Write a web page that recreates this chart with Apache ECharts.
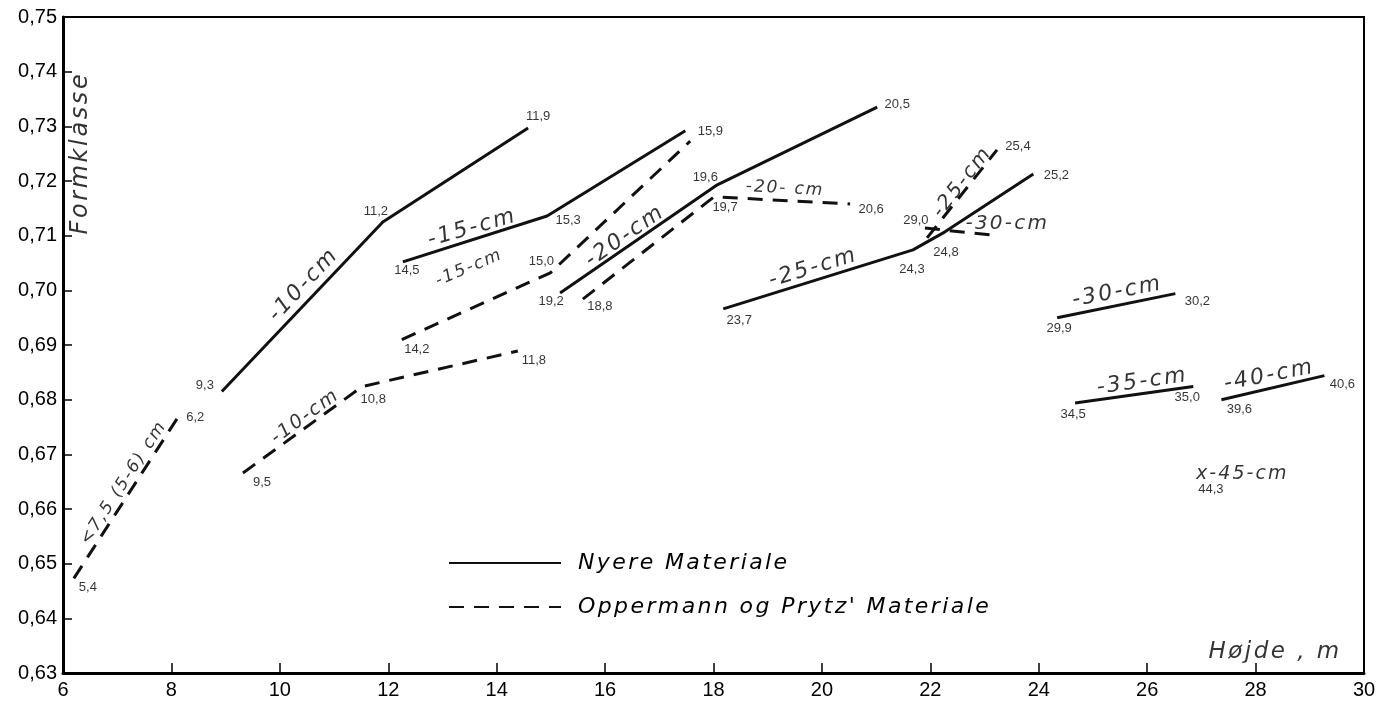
<!DOCTYPE html>
<html>
<head>
<meta charset="utf-8">
<script src="https://cdn.jsdelivr.net/npm/echarts@6/dist/echarts.min.js"></script>
<style>
  html, body { margin: 0; padding: 0; background: #fff; }
  #chart { width: 1385px; height: 705px; }
</style>
</head>
<body>
<div id="chart"></div>
<script>
// Formklasse against height (Højde, m), grouped by diameter class.

// Axis ranges and tick labels
const xTicks = [6, 8, 10, 12, 14, 16, 18, 20, 22, 24, 26, 28, 30];
const yTicks = [0.63, 0.64, 0.65, 0.66, 0.67, 0.68, 0.69, 0.70, 0.71, 0.72, 0.73, 0.74, 0.75];

// Legend names
const NYERE = 'Nyere Materiale';
const OPPERMANN = "Oppermann og Prytz' Materiale";

// Nyere Materiale (solid lines): [height m, formklasse]
const nyere10 = [[8.93, 0.6815], [11.90, 0.7125], [14.58, 0.7297]];
const nyere10Tags = ['9,3', '11,2', '11,9'];
const nyere15 = [[12.27, 0.7052], [14.93, 0.7136], [17.48, 0.7292]];
const nyere15Tags = ['14,5', '15,3', '15,9'];
const nyere20 = [[15.17, 0.6995], [18.07, 0.7193], [21.02, 0.7335]];
const nyere20Tags = ['19,2', '19,6', '20,5'];
const nyere25 = [[18.18, 0.6966], [21.68, 0.7074], [22.27, 0.7107], [23.90, 0.7213]];
const nyere25Tags = ['23,7', '24,3', '24,8', '25,2'];
const nyere30 = [[24.34, 0.6950], [26.52, 0.6994]];
const nyere30Tags = ['29,9', '30,2'];
const nyere35 = [[24.67, 0.6794], [26.85, 0.6824]];
const nyere35Tags = ['34,5', '35,0'];
const nyere40 = [[27.37, 0.6800], [29.27, 0.6844]];
const nyere40Tags = ['39,6', '40,6'];
const nyere45 = [[27.01, 0.6663]];
const nyere45Tags = ['44,3'];

// Oppermann og Prytz' Materiale (dashed lines)
const opp75 = [[6.20, 0.6473], [8.20, 0.6780]];
const opp75Tags = ['5,4', '6,2'];
const opp10 = [[9.32, 0.6666], [11.52, 0.6824], [14.39, 0.6889]];
const opp10Tags = ['9,5', '10,8', '11,8'];
const opp15 = [[12.25, 0.6910], [14.99, 0.7032], [17.57, 0.7273]];
const opp15Tags = ['14,2', '15,0', ''];
const opp20 = [[15.59, 0.6984], [18.01, 0.7171], [20.52, 0.7158]];
const opp20Tags = ['18,8', '19,7', '20,6'];
const opp25 = [[21.94, 0.7096], [23.23, 0.7257]];
const opp25Tags = ['', '25,4'];
const opp30 = [[21.90, 0.7114], [23.14, 0.7101]];
const opp30Tags = ['29,0', ''];

// Diameter-class captions, anchored in data space
const solidCaptions = [
  { text: '-10-cm', at: [10.44, 0.7010], rotate: 47 },
  { text: '-15-cm', at: [13.55, 0.7114], rotate: 16 },
  { text: '-20-cm', at: [16.37, 0.7099], rotate: 35 },
  { text: '-25-cm', at: [19.84, 0.7041], rotate: 17 },
  { text: '-30-cm', at: [25.45, 0.6997], rotate: 11 },
  { text: '-35-cm', at: [25.91, 0.6833], rotate: 8 },
  { text: '-40-cm', at: [28.25, 0.6844], rotate: 11 }
];
const dashedCaptions = [
  { text: '<7,5 (5-6) cm', at: [7.12, 0.6648], rotate: 57 },
  { text: '-10-cm', at: [10.47, 0.6769], rotate: 36 },
  { text: '-15-cm', at: [13.49, 0.7041], rotate: 23 },
  { text: '-20- cm', at: [19.32, 0.7186], rotate: -3 },
  { text: '-25-cm', at: [22.59, 0.7198], rotate: 52 },
  { text: '-30-cm', at: [23.42, 0.7122], rotate: 0 }
];
const axisTitles = [
  { text: 'Formklasse', at: [6.33, 0.7251], rotate: 90 },
  { text: 'Højde , m', at: [28.36, 0.6339], rotate: 0 }
];

// ---- styling ----
const TICK_FONT = 'Liberation Sans';
const HAND_FONT = 'DejaVu Sans';
const INK = '#111';
const DASH = [15, 10];

// Hand lettering is widely tracked: italic text gets extra letter spacing,
// everything else is drawn with normal spacing.
(function () {
  const proto = CanvasRenderingContext2D.prototype;
  const origFill = proto.fillText;
  proto.fillText = function (text, x, y, maxWidth) {
    if ('letterSpacing' in this) {
      const font = this.font || '';
      const m = /italic.*?(\d+(?:\.\d+)?)px/.exec(font);
      this.letterSpacing = m ? (parseFloat(m[1]) * 0.11).toFixed(1) + 'px' : '0px';
      this.font = font;
    }
    if (maxWidth === undefined) return origFill.call(this, text, x, y);
    return origFill.call(this, text, x, y, maxWidth);
  };
})();

// pixel offsets of each point tag relative to its point
const tagOffsets = {
  n10: [[-17, -6], [-7, -11], [10, -12]],
  n15: [[4, 9], [21, 4], [25, 1]],
  n20: [[-9, 8], [-12, -7], [20, -3]],
  n25: [[16, 12], [-1, 20], [1, 21], [23, 2]],
  n30: [[2, 11], [22, 8]],
  n35: [[-2, 11], [-6, 11]],
  n40: [[18, 10], [18, 9]],
  n45: [[9, 15]],
  o75: [[14, 9], [13, 7]],
  o10: [[19, 10], [11, 13], [16, 9]],
  o15: [[15, 10], [-9, -11], [0, 0]],
  o20: [[17, 7], [11, 11], [21, 5]],
  o25: [[0, 0], [21, -3]],
  o30: [[-9, -8], [0, 0]]
};

const curves = [
  { key: 'n10', name: NYERE, pts: nyere10, tags: nyere10Tags, dashed: false },
  { key: 'n15', name: NYERE, pts: nyere15, tags: nyere15Tags, dashed: false },
  { key: 'n20', name: NYERE, pts: nyere20, tags: nyere20Tags, dashed: false },
  { key: 'n25', name: NYERE, pts: nyere25, tags: nyere25Tags, dashed: false },
  { key: 'n30', name: NYERE, pts: nyere30, tags: nyere30Tags, dashed: false },
  { key: 'n35', name: NYERE, pts: nyere35, tags: nyere35Tags, dashed: false },
  { key: 'n40', name: NYERE, pts: nyere40, tags: nyere40Tags, dashed: false },
  { key: 'o75', name: OPPERMANN, pts: opp75, tags: opp75Tags, dashed: true },
  { key: 'o10', name: OPPERMANN, pts: opp10, tags: opp10Tags, dashed: true },
  { key: 'o15', name: OPPERMANN, pts: opp15, tags: opp15Tags, dashed: true },
  { key: 'o20', name: OPPERMANN, pts: opp20, tags: opp20Tags, dashed: true },
  { key: 'o25', name: OPPERMANN, pts: opp25, tags: opp25Tags, dashed: true },
  { key: 'o30', name: OPPERMANN, pts: opp30, tags: opp30Tags, dashed: true }
];

const lineSeries = curves.map(c => ({
  type: 'line',
  name: c.name,
  data: c.pts,
  symbol: 'none',
  silent: true,
  z: 2,
  itemStyle: { color: INK },
  lineStyle: { color: INK, width: 3, type: c.dashed ? DASH : 'solid', cap: 'butt' }
}));

// point tags written at the ends and bends of the curves
const tagItems = [];
curves.concat([{ key: 'n45', pts: nyere45, tags: nyere45Tags }]).forEach(c => {
  c.pts.forEach((p, i) => {
    if (!c.tags[i]) return;
    tagItems.push({
      value: p,
      label: { formatter: c.tags[i], offset: tagOffsets[c.key][i] }
    });
  });
});

const tagSeries = {
  type: 'scatter',
  name: 'tags',
  data: tagItems,
  symbolSize: 1,
  silent: true,
  z: 5,
  itemStyle: { color: 'rgba(0,0,0,0)' },
  label: {
    show: true, position: 'inside', color: '#000',
    fontFamily: TICK_FONT, fontStyle: 'normal', fontSize: 13
  }
};

function captionItem(c, size) {
  return {
    value: c.at,
    label: { formatter: c.text, rotate: c.rotate, fontSize: size }
  };
}

const dashedCaptionSizes = [17, 19, 17, 17, 20, 20];

const captionSeries = {
  type: 'scatter',
  name: 'captions',
  data: solidCaptions.map(c => captionItem(c, 22))
    .concat(dashedCaptions.map((c, i) => captionItem(c, dashedCaptionSizes[i])))
    .concat(axisTitles.map((c, i) => captionItem(c, i === 0 ? 24 : 23))),
  symbolSize: 1,
  silent: true,
  z: 5,
  itemStyle: { color: 'rgba(0,0,0,0)' },
  label: {
    show: true, position: 'inside', color: '#000',
    fontFamily: HAND_FONT, fontStyle: 'italic'
  }
};

// the single 45 cm observation, marked with an x
const markerSeries = {
  type: 'scatter',
  name: 'x45',
  data: nyere45.map(p => ({ value: p })),
  symbolSize: 1,
  silent: true,
  z: 5,
  itemStyle: { color: 'rgba(0,0,0,0)' },
  label: {
    show: true, position: 'inside', align: 'left', offset: [-6, 0],
    formatter: 'x-45-cm', color: '#000',
    fontFamily: HAND_FONT, fontStyle: 'italic', fontSize: 19
  }
};

const chart = echarts.init(document.getElementById('chart'), null, { renderer: 'canvas' });
chart.setOption({
  animation: false,
  backgroundColor: '#fff',
  grid: {
    left: 63, right: 21, top: 17, bottom: 32,
    show: true, borderColor: '#000', borderWidth: 2, backgroundColor: 'transparent'
  },
  legend: {
    data: [NYERE, OPPERMANN],
    orient: 'vertical',
    left: 443, top: 547,
    itemWidth: 112, itemHeight: 14, itemGap: 22,
    selectedMode: false,
    itemStyle: { opacity: 0 },
    textStyle: {
      fontFamily: HAND_FONT, fontStyle: 'italic', fontSize: 22, color: '#000',
      padding: [0, 0, 0, 12]
    }
  },
  xAxis: {
    type: 'value',
    min: xTicks[0], max: xTicks[xTicks.length - 1], interval: 2,
    axisLine: { show: true, onZero: false, lineStyle: { color: '#000', width: 3 } },
    axisTick: { show: true, inside: true, length: 10, lineStyle: { color: '#000', width: 1.5 } },
    axisLabel: { color: '#000', fontFamily: TICK_FONT, fontSize: 20, margin: 7 },
    splitLine: { show: false }
  },
  yAxis: {
    type: 'value',
    min: yTicks[0], max: yTicks[yTicks.length - 1], interval: 0.01,
    axisLine: { show: true, onZero: false, lineStyle: { color: '#000', width: 3 } },
    axisTick: { show: true, inside: true, length: 9, lineStyle: { color: '#000', width: 1.5 } },
    axisLabel: {
      color: '#000', fontFamily: TICK_FONT, fontSize: 20, margin: 6,
      formatter: v => v.toFixed(2).replace('.', ',')
    },
    splitLine: { show: false }
  },
  series: lineSeries.concat([tagSeries, captionSeries, markerSeries])
});
</script>
</body>
</html>
